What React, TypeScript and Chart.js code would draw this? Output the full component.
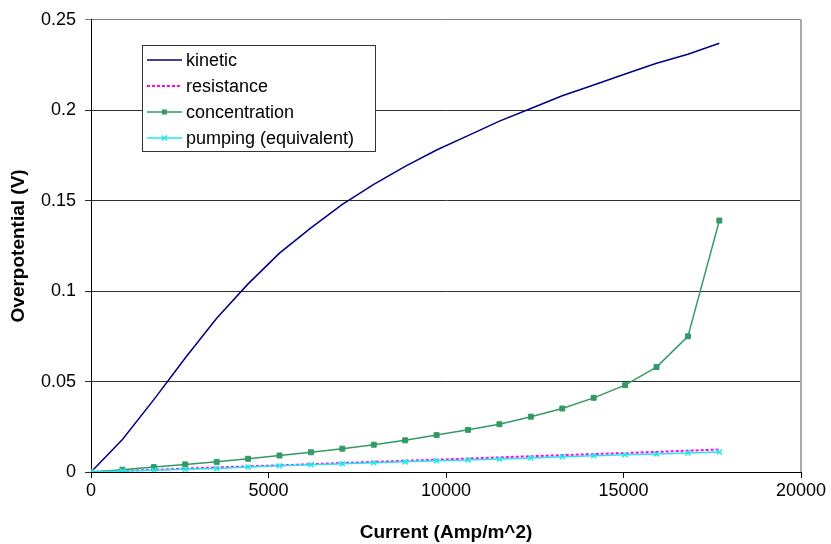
import React, { useEffect, useRef } from "react";
import { Chart, registerables } from "chart.js";

Chart.register(...registerables);

// x positions of the samples (Amp/m^2)
const current = [
  0, 885, 1770, 2655, 3540, 4425, 5310, 6195, 7080, 7965, 8850,
  9735, 10620, 11505, 12390, 13275, 14160, 15045, 15930, 16815, 17700,
];
const kinetic = [
  0, 0.018, 0.04, 0.063, 0.085, 0.104, 0.121, 0.135, 0.148, 0.159, 0.169,
  0.178, 0.186, 0.194, 0.201, 0.208, 0.214, 0.22, 0.226, 0.231, 0.237,
];
const resistance = [
  0, 0.0006, 0.0012, 0.0019, 0.0025, 0.0031, 0.0037, 0.0043, 0.005, 0.0056, 0.0062,
  0.0068, 0.0074, 0.0081, 0.0087, 0.0093, 0.0099, 0.0105, 0.0111, 0.0118, 0.0124,
];
const concentration = [
  0, 0.0013, 0.0027, 0.0042, 0.0056, 0.0073, 0.0091, 0.0109, 0.0129, 0.0151, 0.0175,
  0.0204, 0.0233, 0.0264, 0.0306, 0.0351, 0.041, 0.048, 0.058, 0.075, 0.139,
];
const pumping = [
  0, 0.0005, 0.0009, 0.0015, 0.002, 0.0028, 0.0034, 0.004, 0.0045, 0.0051, 0.0056,
  0.0062, 0.0067, 0.0072, 0.0077, 0.0084, 0.009, 0.0096, 0.01, 0.0105, 0.0111,
];
const seriesNames = ["kinetic", "resistance", "concentration", "pumping (equivalent)"];
const xTicks = [0, 5000, 10000, 15000, 20000];
const yTicks = [0, 0.05, 0.1, 0.15, 0.2, 0.25];

const FONT = "Arial, 'Liberation Sans', sans-serif";

const toPts = (ys: number[]) => ys.map((y, i) => ({ x: current[i], y }));

export default function App() {
  const ref = useRef<HTMLCanvasElement | null>(null);

  useEffect(() => {
    if (!ref.current) return;

    const frame = {
      id: "frame",
      afterDatasetsDraw(chart: any) {
        const { ctx, chartArea: a } = chart;
        ctx.save();
        ctx.strokeStyle = "#a8a8a8";
        ctx.lineWidth = 2;
        ctx.beginPath();
        ctx.moveTo(a.right, a.top);
        ctx.lineTo(a.right, a.bottom);
        ctx.stroke();
        ctx.restore();
      },
      afterDraw(chart: any) {
        const { ctx } = chart;
        const ds = chart.data.datasets;
        ctx.save();
        const bx = 142.5, by = 45.5, bw = 233, bh = 106;
        ctx.fillStyle = "#ffffff";
        ctx.fillRect(bx, by, bw, bh);
        ctx.strokeStyle = "#333333";
        ctx.lineWidth = 1;
        ctx.strokeRect(bx, by, bw, bh);
        const rows = [60, 86, 112, 138];
        ctx.font = `18px ${FONT}`;
        ctx.textBaseline = "middle";
        ctx.textAlign = "left";
        rows.forEach((ry, i) => {
          const d = ds[i];
          ctx.strokeStyle = d.borderColor;
          ctx.lineWidth = d.borderWidth;
          ctx.setLineDash(d.borderDash || []);
          ctx.beginPath();
          ctx.moveTo(147, ry);
          ctx.lineTo(182, ry);
          ctx.stroke();
          ctx.setLineDash([]);
          if (i === 2) {
            ctx.fillStyle = d.pointBackgroundColor;
            ctx.fillRect(164.5 - 2.5, ry - 2.5, 5, 5);
          }
          if (i === 3) {
            ctx.lineWidth = 1.5;
            ctx.beginPath();
            ctx.moveTo(162, ry - 2.5);
            ctx.lineTo(167, ry + 2.5);
            ctx.moveTo(167, ry - 2.5);
            ctx.lineTo(162, ry + 2.5);
            ctx.stroke();
          }
          ctx.fillStyle = "#000000";
          ctx.fillText(seriesNames[i], 186, ry + 1);
        });
        ctx.restore();
      },
    };

    const chart = new Chart(ref.current, {
      type: "scatter",
      data: {
        datasets: [
          {
            label: seriesNames[0],
            data: toPts(kinetic),
            showLine: true,
            borderColor: "#000080",
            backgroundColor: "#000080",
            borderWidth: 1.5,
            pointRadius: 0,
            order: 4,
          },
          {
            label: seriesNames[1],
            data: toPts(resistance),
            showLine: true,
            borderColor: "#ff00ff",
            backgroundColor: "#ff00ff",
            borderWidth: 2,
            borderDash: [3, 2],
            pointRadius: 0,
            order: 3,
          },
          {
            label: seriesNames[2],
            data: toPts(concentration),
            showLine: true,
            borderColor: "#339966",
            backgroundColor: "#339966",
            pointBackgroundColor: "#339966",
            pointBorderColor: "#339966",
            borderWidth: 1.5,
            pointStyle: "rect",
            pointRadius: 3.5,
            pointBorderWidth: 1,
            order: 2,
          },
          {
            label: seriesNames[3],
            data: toPts(pumping),
            showLine: true,
            borderColor: "#22e8e8",
            backgroundColor: "#22e8e8",
            pointBorderColor: "#22e8e8",
            borderWidth: 1.5,
            pointStyle: "crossRot",
            pointRadius: 3.5,
            pointBorderWidth: 1.5,
            order: 1,
          },
        ],
      },
      options: {
        responsive: false,
        animation: false,
        events: [],
        layout: { padding: { top: 14, right: 30, left: 0, bottom: 0 } },
        plugins: {
          legend: { display: false },
          tooltip: { enabled: false },
          title: { display: false },
        },
        scales: {
          x: {
            type: "linear",
            min: 0,
            max: 20000,
            afterBuildTicks: (s: any) => {
              s.ticks = xTicks.map((v) => ({ value: v }));
            },
            afterFit: (s: any) => {
              s.height = 72;
            },
            ticks: {
              color: "#000",
              font: { family: FONT, size: 18 },
              padding: 2,
              maxRotation: 0,
              callback: (v: any) => String(v),
            },
            grid: {
              display: true,
              drawOnChartArea: false,
              drawTicks: true,
              tickLength: 6,
              color: "#000",
            },
            border: { display: true, color: "#000", width: 1 },
            title: {
              display: true,
              text: "Current (Amp/m^2)",
              color: "#000",
              font: { family: FONT, size: 19, weight: "bold" },
              padding: { top: 5, bottom: 0 },
            },
          },
          y: {
            type: "linear",
            min: 0,
            max: 0.25,
            afterBuildTicks: (s: any) => {
              s.ticks = yTicks.map((v) => ({ value: v }));
            },
            afterFit: (s: any) => {
              s.width = 91;
            },
            ticks: {
              color: "#000",
              font: { family: FONT, size: 18 },
              padding: 9,
              callback: (v: any) => String(Number(Number(v).toFixed(2))),
            },
            grid: {
              display: true,
              drawOnChartArea: true,
              drawTicks: true,
              tickLength: 6,
              color: (c: any) =>
                c.tick && c.tick.value === 0.25 ? "#808080" : "#303030",
              lineWidth: 1,
            },
            border: { display: true, color: "#000", width: 1 },
            title: {
              display: true,
              text: "Overpotential (V)",
              color: "#000",
              font: { family: FONT, size: 19, weight: "bold" },
              padding: { top: 7, bottom: 0 },
            },
          },
        },
      },
      plugins: [frame],
    } as any);

    return () => chart.destroy();
  }, []);

  return (
    <div style={{ position: "absolute", left: 0, top: 0, width: 831, height: 544, background: "#fff" }}>
      <canvas ref={ref} width={831} height={544} style={{ display: "block" }} />
    </div>
  );
}
